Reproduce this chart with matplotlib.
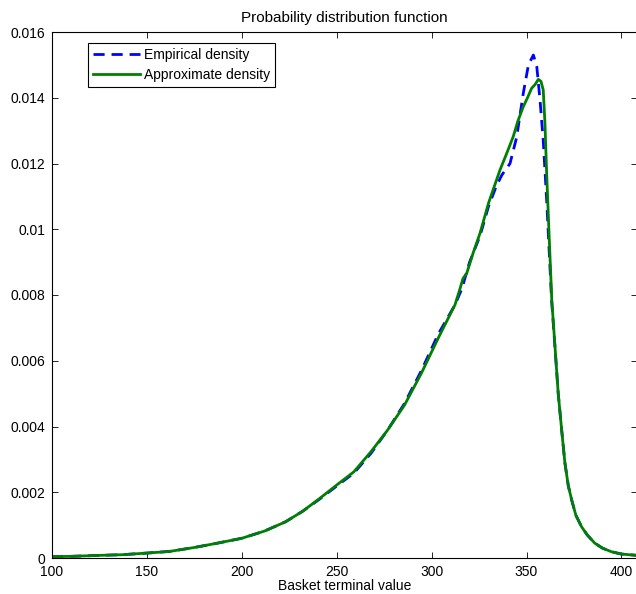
import numpy as np
import matplotlib
matplotlib.use("Agg")
import matplotlib.pyplot as plt

plt.rcParams["font.family"] = ["Liberation Sans", "DejaVu Sans"]
plt.rcParams["font.size"] = 10

# values
x_approx = [100, 110, 125, 137, 150, 162, 175, 187, 200, 212, 223, 232, 241.2,
            250, 259, 268, 276.8, 285.7, 294.6, 303.4, 312.3, 315, 316.5, 318.5,
            322, 325.5, 330, 333, 336, 339.5, 343, 345.5, 348.3, 350.5, 352.7,
            354.5, 356.2, 357.6, 358.8, 359.7, 360.6, 362, 363.3, 365, 366.7,
            368.5, 370.2, 372, 373.8, 376, 379, 382, 386, 390, 394.8, 400, 408.2]
y_approx = [0.00004, 0.00005, 0.00008, 0.0001, 0.00015, 0.0002, 0.00032, 0.00045,
            0.0006, 0.00082, 0.0011, 0.00142, 0.00182, 0.00222, 0.00262, 0.00323,
            0.00389, 0.00465, 0.00562, 0.00668, 0.0077, 0.0082, 0.0085, 0.00866,
            0.0093, 0.00988, 0.0108, 0.0113, 0.0118, 0.0123, 0.01282, 0.0133,
            0.01373, 0.0140, 0.01429, 0.0144, 0.01456, 0.0145, 0.01424, 0.01323,
            0.0117, 0.00967, 0.00785, 0.00643, 0.0050, 0.0039, 0.0029, 0.0022,
            0.00176, 0.0013, 0.00095, 0.0007, 0.00045, 0.0003, 0.00019, 0.00012,
            0.00008]

x_emp = [100, 110, 125, 137, 150, 162, 175, 187, 200, 212, 223, 232, 241.2,
         250, 259, 268, 276.8, 285.7, 294.6, 303.4, 312.3, 316, 320, 325.5, 330,
         334, 337, 341.3, 344.8, 348.3, 351, 353.6, 355.4, 357.1, 358.8, 360.6,
         363.2, 365, 366.7, 368.5, 370.2, 372, 373.8, 376, 379, 382, 386, 390,
         394.8, 400, 408.2]
y_emp = [0.00004, 0.00005, 0.00008, 0.0001, 0.00015, 0.0002, 0.00032, 0.00045,
         0.0006, 0.00082, 0.0011, 0.00142, 0.0018, 0.00219, 0.00258, 0.00318,
         0.00389, 0.0047, 0.0057, 0.0068, 0.0077, 0.0082, 0.0090, 0.0098, 0.0107,
         0.0113, 0.01165, 0.0120, 0.0128, 0.01414, 0.0150, 0.0153, 0.01495,
         0.01393, 0.0127, 0.0109, 0.00785, 0.0064, 0.0050, 0.0039, 0.0029,
         0.0022, 0.00176, 0.0013, 0.00095, 0.0007, 0.00045, 0.0003, 0.00019,
         0.00012, 0.00008]

x_ticks = [100, 150, 200, 250, 300, 350, 400]
y_ticks = [0, 0.002, 0.004, 0.006, 0.008, 0.01, 0.012, 0.014, 0.016]

fig = plt.figure(figsize=(6.36, 5.94), dpi=100)
ax = fig.add_axes([52 / 636, 36 / 594, 585 / 636, 526 / 594])

ax.plot(x_emp, y_emp, color=(0, 0, 1), linestyle="--", linewidth=2,
        dashes=(4, 2.5), label="Empirical density")
ax.plot(x_approx, y_approx, color=(0, 0.5, 0), linewidth=2,
        label="Approximate density")

ax.set_xlim(100, 408.2)
ax.set_ylim(0, 0.016)
ax.set_xticks(x_ticks)
ax.set_yticks(y_ticks)
ax.set_yticklabels(["%g" % v for v in y_ticks])
ax.tick_params(direction="in", length=4.5, width=0.6, top=True, right=True)
ax.tick_params(axis="x", pad=5)
ax.tick_params(axis="y", pad=5)
for sp in ax.spines.values():
    sp.set_linewidth(0.8)

ax.set_xlabel("Basket terminal value", labelpad=0)
ax.set_title("Probability distribution function", fontsize=11, pad=7)

leg = ax.legend(loc="upper left", bbox_to_anchor=(36 / 585, (558 - 43) / 526),
                borderaxespad=0, fancybox=False, edgecolor="black", framealpha=1,
                handlelength=3.4, handletextpad=0.3, borderpad=0.35,
                labelspacing=0.45, fontsize=10)
leg.get_frame().set_linewidth(0.8)

fig.savefig("out.png", dpi=100)
